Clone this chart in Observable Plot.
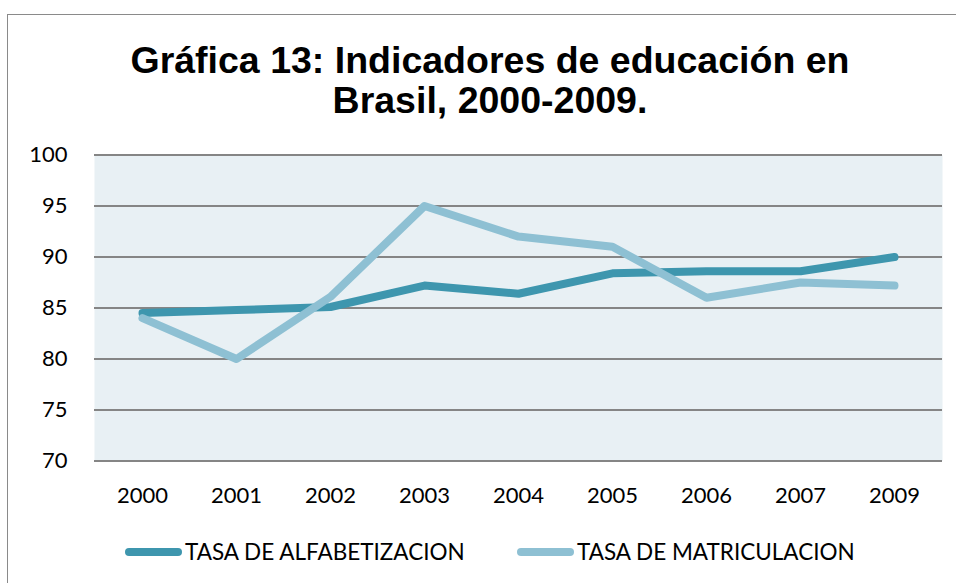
<!DOCTYPE html>
<html>
<head>
<meta charset="utf-8">
<script src="https://cdn.jsdelivr.net/npm/d3@7"></script>
<script src="https://cdn.jsdelivr.net/npm/@observablehq/plot@0.6"></script>
<style>
  html, body { margin: 0; padding: 0; background: #ffffff; }
  #wrap { position: relative; width: 956px; height: 583px; overflow: hidden; background: #fff; }
  #frame { position: absolute; left: 7px; top: 14px; width: 1000px; height: 700px; border-left: 1.5px solid #8a8a8a; border-top: 1.5px solid #8a8a8a; box-sizing: border-box; }
  #title { position: absolute; left: 0; top: 40px; width: 980px; text-align: center; font-family: "Liberation Sans", Arial, sans-serif; font-weight: bold; font-size: 37.5px; line-height: 40px; color: #000; }
  #chart { position: absolute; left: 0; top: 0; }
  .leg { position: absolute; top: 538px; display: flex; align-items: center; font-family: Lato, "Open Sans", sans-serif; font-size: 22.5px; color: #000; }
  .sw { display: inline-block; width: 57px; height: 8px; border-radius: 4px; margin-right: 3px; }
</style>
</head>
<body>
<div id="wrap">
  <div id="frame"></div>
  <div id="chart"></div>
  <div id="title">Gráfica 13: Indicadores de educación en<br>Brasil, 2000-2009.</div>
  <div id="legend"></div>
</div>
<script>
const years = ["2000", "2001", "2002", "2003", "2004", "2005", "2006", "2007", "2009"];
const alfabetizacion = [84.5, 84.8, 85.1, 87.2, 86.4, 88.4, 88.6, 88.6, 90.0];
const matriculacion = [84.0, 80.0, 86.1, 95.0, 92.0, 91.0, 86.0, 87.5, 87.2];
const seriesNames = ["TASA DE ALFABETIZACION", "TASA DE MATRICULACION"];
const seriesColors = ["#3e96ae", "#8ec0d3"];
const yTicks = [70, 75, 80, 85, 90, 95, 100];

const rows = [];
years.forEach((yr, i) => {
  rows.push({year: yr, value: alfabetizacion[i], series: seriesNames[0]});
});
years.forEach((yr, i) => {
  rows.push({year: yr, value: matriculacion[i], series: seriesNames[1]});
});

const H = 540;
const chart = Plot.plot({
  width: 956,
  height: H,
  marginLeft: 94,
  marginRight: 14,
  marginTop: 154.5,
  marginBottom: H - 460.5,
  style: {background: "transparent", fontFamily: "Lato, 'Open Sans', sans-serif", fontSize: "22px", color: "#000"},
  x: {type: "point", domain: years, padding: 0.5, label: null},
  y: {domain: [70, 100], label: null},
  color: {domain: seriesNames, range: seriesColors},
  marks: [
    Plot.frame({fill: "#e8f0f4", stroke: null}),
    Plot.ruleY(yTicks, {stroke: "#858585", strokeWidth: 2}),
    Plot.axisY({ticks: yTicks, tickSize: 0, tickPadding: 27, label: null, fill: "#000"}),
    Plot.axisX({tickSize: 0, tickPadding: 26, label: null, fill: "#000"}),
    Plot.line(rows.filter(d => d.series === seriesNames[0]), {x: "year", y: "value", stroke: "series", strokeWidth: 8, strokeLinecap: "round", strokeLinejoin: "round"}),
    Plot.line(rows.filter(d => d.series === seriesNames[1]), {x: "year", y: "value", stroke: "series", strokeWidth: 8, strokeLinecap: "round", strokeLinejoin: "round"})
  ]
});
document.getElementById("chart").appendChild(chart);

const legend = document.getElementById("legend");
const legLeft = [125, 517];
seriesNames.forEach((name, i) => {
  const item = document.createElement("div");
  item.className = "leg";
  item.style.left = legLeft[i] + "px";
  const sw = document.createElement("span");
  sw.className = "sw";
  sw.style.background = seriesColors[i];
  item.appendChild(sw);
  const t = document.createElement("span");
  t.textContent = name;
  item.appendChild(t);
  legend.appendChild(item);
});
</script>
</body>
</html>
